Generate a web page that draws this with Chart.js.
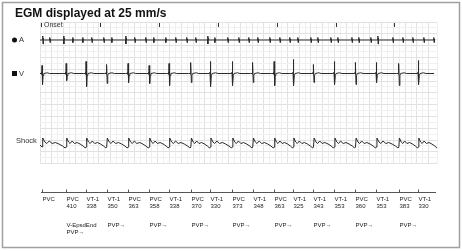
<!DOCTYPE html>
<html>
<head>
<meta charset="utf-8">
<script src="https://cdn.jsdelivr.net/npm/chart.js@4.4.1/dist/chart.umd.min.js"></script>
<style>
  html, body { margin: 0; padding: 0; background: #fff; }
  canvas { display: block; }
</style>
</head>
<body>
<canvas id="egmChart" width="462" height="251"></canvas>
<script>
const firstBeatMs = 34;
const beatTypes = ['PVC', 'PVC', 'VT-1', 'VT-1', 'PVC', 'PVC', 'VT-1', 'PVC', 'VT-1', 'PVC',
                   'VT-1', 'PVC', 'VT-1', 'VT-1', 'VT-1', 'PVC', 'VT-1', 'PVC', 'VT-1'];
const beatIntervals = [null, 410, 338, 350, 363, 358, 338, 370, 330, 373,
                       348, 363, 325, 343, 353, 360, 353, 383, 330];
const pvpBeats = [1, 3, 5, 7, 9, 11, 13, 15, 17];
const episodeEndBeat = 1;
const secondTicks = [0, 1000, 2000, 3000, 4000, 5000, 6000];

// V channel: spike height above / below baseline per beat (px)
const vUp = [8, 10, 12, 9, 10, 8, 10, 11, 12, 12, 11, 12, 14, 9, 12, 11, 11, 10, 13];
const vDown = [11, 7, 13, 10, 9, 10, 12, 9, 13, 12, 9, 12, 12, 9, 11, 11, 9, 12, 11];

// A channel: atrial event times (ms)
const atrialTimes = [51, 170, 407, 560, 730, 883, 1087, 1222, 1460, 1613, 1800, 1935, 2139, 2309,
                     2496, 2649, 2852, 2971, 3192, 3380, 3549, 3702, 3906, 4076, 4245, 4381, 4602,
                     4721, 4942, 5061, 5299, 5417, 5621, 5740, 5995, 6165, 6334, 6521, 6690];

// complex shapes: [ms offset, value] and [cycle phase, value]
const vShape = [[-40, 0], [-12, 0], [-7, 1.2], [-3, -0.8], [0, 'up'], [9, 'down'], [18, -2], [30, 0], [90, 0.7], [130, 0]];
const aShape = [[-9, 0], [-4, 2.5], [0, -2.5], [4, 1], [9, 0]];
const shockShape = [[0, -3], [0.03, 6], [0.12, 2], [0.2, 0.5], [0.3, 3], [0.42, 0.5], [0.55, 1.5], [0.7, 0], [0.85, -2], [0.96, -4]];

const xMax = 6740;
const aBase = 123.6, vBase = 90.1, shockBase = 19.6;

const beatTimes = [];
beatIntervals.forEach((iv, i) => beatTimes.push(i === 0 ? firstBeatMs : beatTimes[i - 1] + iv));

function vTrace() {
  const pts = [{ x: 0, y: vBase }];
  beatTimes.forEach((t, i) => {
    vShape.forEach(([dt, v]) => {
      let val = v === 'up' ? vUp[i] : v === 'down' ? -vDown[i] : v;
      if (t + dt > 0) pts.push({ x: t + dt, y: vBase + val });
    });
  });
  pts.push({ x: 6690, y: vBase });
  return pts;
}

function aTrace() {
  const pts = [{ x: 0, y: aBase }];
  atrialTimes.forEach(t => {
    const nearV = beatTimes.some(b => Math.abs(b - t) < 40);
    aShape.forEach(([dt, v]) => {
      if (t + dt > 0) pts.push({ x: t + dt, y: aBase + v * (nearV ? 1.6 : 1) });
    });
  });
  pts.push({ x: 6710, y: aBase });
  return pts;
}

function shockTrace() {
  const pts = [{ x: 0, y: shockBase - 1 }];
  beatTimes.forEach((t, i) => {
    const len = i < beatTimes.length - 1 ? beatTimes[i + 1] - t : 330;
    shockShape.forEach(([ph, v]) => pts.push({ x: t + ph * len, y: shockBase + v }));
  });
  return pts;
}

const traceStyle = { borderColor: '#2a2a2a', borderWidth: 1, pointRadius: 0, tension: 0, fill: false };

const egmOverlay = {
  id: 'egmOverlay',
  afterDraw(chart) {
    const { ctx, chartArea: a, scales: { x, y } } = chart;
    const font = '"Liberation Sans", Arial, sans-serif';
    ctx.save();
    // frame
    ctx.strokeStyle = '#a0a0a0';
    ctx.lineWidth = 1.5;
    ctx.strokeRect(2.5, 2.5, 457, 245);
    // title
    ctx.fillStyle = '#111';
    ctx.font = 'bold 12px ' + font;
    ctx.fillText('EGM displayed at 25 mm/s', 15, 17);
    // one-second ticks along top with onset label
    ctx.strokeStyle = '#333';
    ctx.lineWidth = 1;
    secondTicks.forEach(t => {
      const px = Math.round(x.getPixelForValue(t)) + 1.5;
      ctx.beginPath(); ctx.moveTo(px, a.top + 1); ctx.lineTo(px, a.top + 5); ctx.stroke();
    });
    ctx.fillStyle = '#333';
    ctx.font = '7px ' + font;
    ctx.textBaseline = 'middle';
    ctx.fillText('Onset', a.left + 4, a.top + 3);
    // channel labels
    const ya = y.getPixelForValue(aBase), yv = y.getPixelForValue(vBase), ys = y.getPixelForValue(shockBase + 3);
    ctx.beginPath(); ctx.arc(14.5, ya, 2.5, 0, Math.PI * 2); ctx.fillStyle = '#111'; ctx.fill();
    ctx.fillRect(12, yv - 2.5, 5, 5);
    ctx.fillStyle = '#333';
    ctx.font = '7.5px ' + font;
    ctx.fillText('A', 19, ya);
    ctx.fillText('V', 19, yv);
    ctx.fillText('Shock', 16, ys);
    // marker channel
    const my = 192.5;
    ctx.strokeStyle = '#555';
    ctx.beginPath(); ctx.moveTo(a.left + 1, my); ctx.lineTo(a.right - 1, my); ctx.stroke();
    ctx.fillStyle = '#222';
    ctx.font = '6px ' + font;
    ctx.textBaseline = 'alphabetic';
    beatTimes.forEach((t, i) => {
      const px = Math.round(x.getPixelForValue(t)) + 0.5;
      ctx.beginPath(); ctx.moveTo(px, my - 3); ctx.lineTo(px, my); ctx.stroke();
      ctx.fillText(beatTypes[i], px, 201);
      if (beatIntervals[i] !== null) ctx.fillText(String(beatIntervals[i]), px, 208);
    });
    pvpBeats.forEach(i => {
      const px = Math.round(x.getPixelForValue(beatTimes[i])) + 0.5;
      const row = i === episodeEndBeat ? 234 : 227;
      ctx.fillText('PVP\u2192', px, row);
    });
    ctx.fillText('V-EpsdEnd', Math.round(x.getPixelForValue(beatTimes[episodeEndBeat])) + 0.5, 227);
    ctx.restore();
  }
};

const gridColor = ctx => (ctx.index % 2 === 0 ? '#e2e2e2' : '#f0f0f0');

new Chart(document.getElementById('egmChart'), {
  type: 'line',
  data: {
    datasets: [
      Object.assign({ data: aTrace() }, traceStyle),
      Object.assign({ data: vTrace() }, traceStyle),
      Object.assign({ data: shockTrace() }, traceStyle)
    ]
  },
  options: {
    responsive: false,
    animation: false,
    parsing: false,
    layout: { padding: { left: 40, right: 25, top: 22, bottom: 87.4 } },
    plugins: { legend: { display: false }, tooltip: { enabled: false } },
    scales: {
      x: {
        type: 'linear', min: 0, max: xMax,
        ticks: { display: false, stepSize: 100 },
        grid: { color: gridColor, drawTicks: false },
        border: { display: false }
      },
      y: {
        type: 'linear', min: 0, max: 141.6,
        ticks: { display: false, stepSize: 5.9 },
        grid: { color: gridColor, drawTicks: false },
        border: { display: false }
      }
    }
  },
  plugins: [egmOverlay]
});
</script>
</body>
</html>
